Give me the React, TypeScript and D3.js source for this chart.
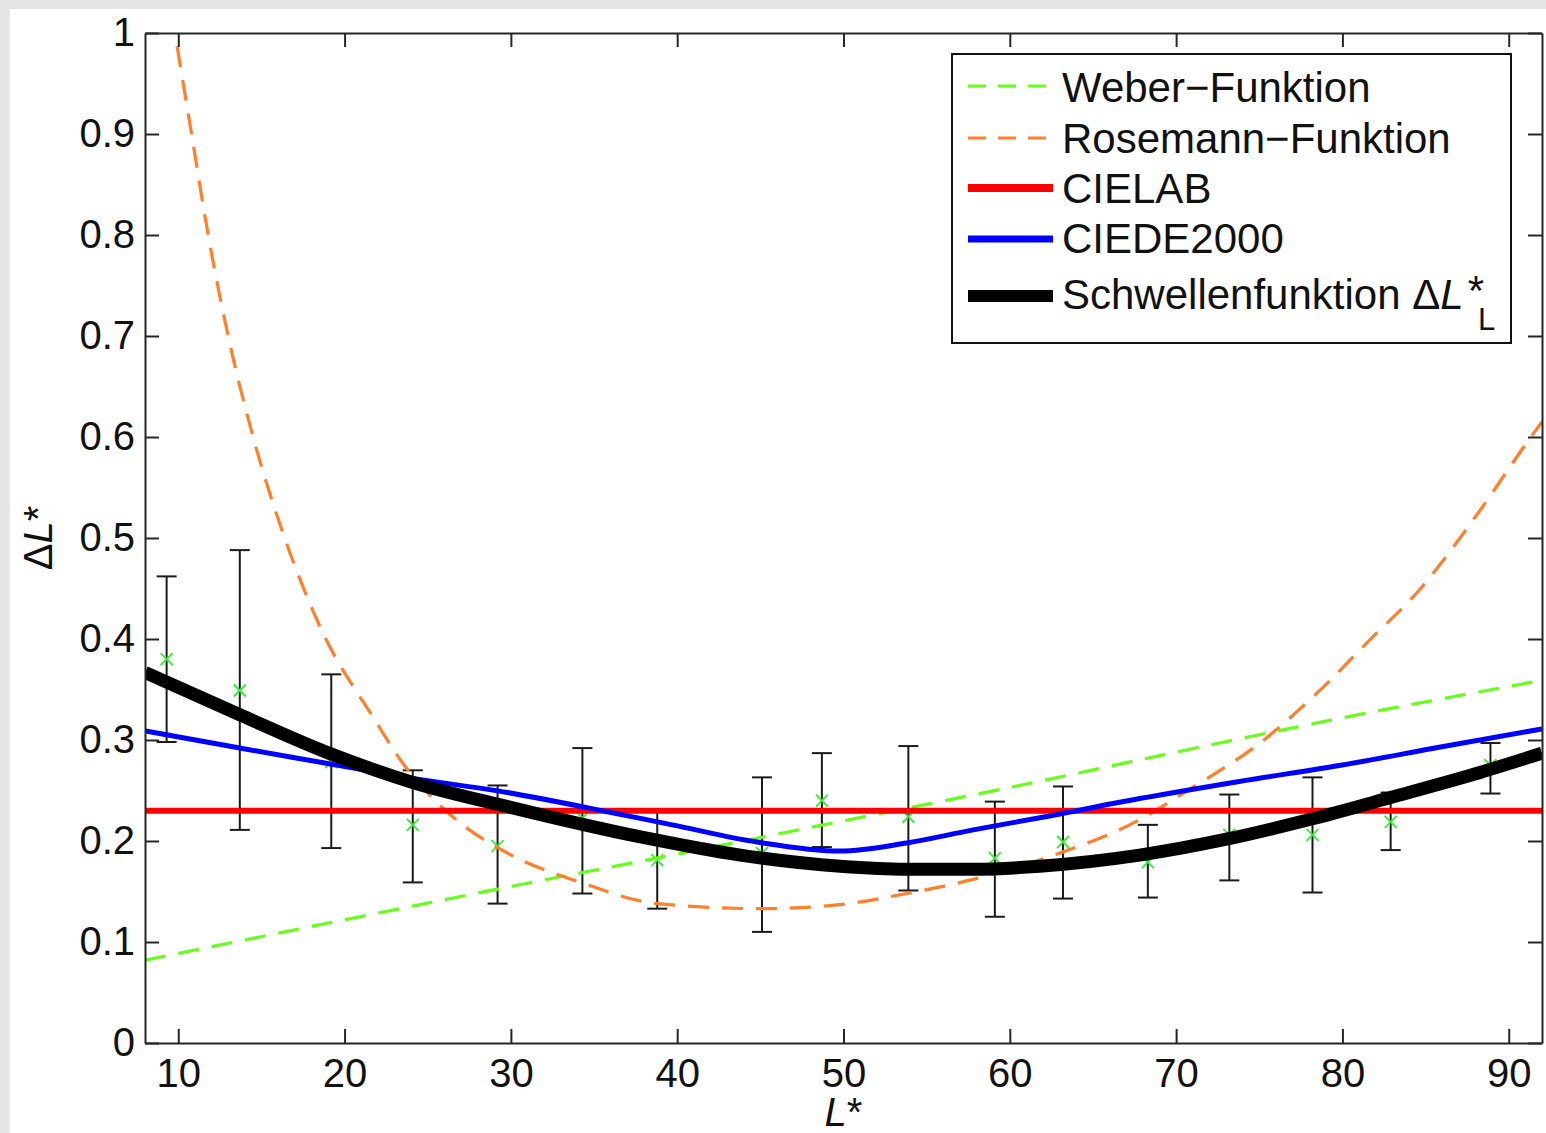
import { useEffect, useRef } from 'react';
import * as d3 from 'd3';

const W = 1546;
const H = 1133;

// tick values
const xTicks = [10, 20, 30, 40, 50, 60, 70, 80, 90];
const yTicks = [0, 0.1, 0.2, 0.3, 0.4, 0.5, 0.6, 0.7, 0.8, 0.9, 1];

// Weber function (green dashed)
const weberL = [8, 20, 30, 40, 50, 60, 70, 80, 92];
const weberV = [0.082, 0.122, 0.155, 0.187, 0.22, 0.253, 0.288, 0.322, 0.359];

// Rosemann function (orange dashed)
const roseL = [9.6, 9.8, 10.8, 11.8, 13.0, 14.5, 16.4, 18.7, 21.7, 23.5, 26.5, 29.8, 34.2, 38.8, 45.2, 49.8, 53.8, 57.8, 63.0, 67.8, 70.2, 75.5, 78.5, 81.7, 84.7, 86.8, 88.3, 91.2, 92];
const roseV = [1.02, 1.0, 0.9, 0.8, 0.7, 0.6, 0.5, 0.406, 0.323, 0.277, 0.224, 0.188, 0.159, 0.138, 0.133, 0.137, 0.148, 0.162, 0.188, 0.221, 0.245, 0.303, 0.347, 0.4, 0.45, 0.494, 0.528, 0.597, 0.615];

// CIELAB (constant)
const cielabL = [8, 92];
const cielabV = [0.23, 0.23];

// CIEDE2000 (blue)
const ciedeL = [8, 13.7, 18.9, 24.1, 29.8, 35.8, 39.7, 44.8, 49.8, 53.8, 57.8, 61.8, 67.8, 73.8, 79.9, 85.9, 92];
const ciedeV = [0.309, 0.292, 0.277, 0.262, 0.248, 0.229, 0.216, 0.199, 0.19, 0.198, 0.211, 0.223, 0.242, 0.259, 0.275, 0.293, 0.311];

// threshold function (black)
const schwL = [8, 13.7, 18.9, 24.1, 29.8, 37.8, 43.8, 49.8, 53.8, 57.8, 61.8, 67.8, 73.1, 78.2, 82.9, 87.9, 92];
const schwV = [0.367, 0.325, 0.288, 0.258, 0.234, 0.204, 0.186, 0.175, 0.172, 0.172, 0.175, 0.186, 0.202, 0.222, 0.243, 0.266, 0.287];

// measured thresholds with error bars
const measL = [9.3, 13.7, 19.2, 24.1, 29.2, 34.3, 38.8, 45.1, 48.7, 53.9, 59.1, 63.2, 68.3, 73.2, 78.2, 82.9, 88.9];
const measMean = [0.38, 0.349, 0.278, 0.216, 0.195, 0.223, 0.181, 0.188, 0.24, 0.224, 0.183, 0.199, 0.179, 0.206, 0.206, 0.219, 0.275];
const measLow = [0.298, 0.211, 0.193, 0.159, 0.138, 0.148, 0.133, 0.11, 0.194, 0.151, 0.125, 0.143, 0.144, 0.161, 0.149, 0.191, 0.247];
const measHigh = [0.462, 0.488, 0.365, 0.27, 0.255, 0.292, 0.23, 0.263, 0.287, 0.294, 0.239, 0.254, 0.216, 0.246, 0.263, 0.248, 0.297];

const FONT = 'Liberation Sans, Arial, Helvetica, sans-serif';
const AXIS = '#262626';

const App = () => {
  const svgRef = useRef<SVGSVGElement>(null);

  useEffect(() => {
    const svg = d3.select(svgRef.current);
    svg.selectAll('*').remove();

    const margin = { top: 33, right: 4, bottom: 90, left: 145 };
    const width = W - margin.left - margin.right;
    const height = H - margin.top - margin.bottom;

    // figure background
    svg.append('rect').attr('width', W).attr('height', H).attr('fill', '#e6e6e6');
    svg.append('rect').attr('x', 10).attr('y', 9).attr('width', W - 10).attr('height', H - 9).attr('fill', '#fff');

    const g = svg.append('g').attr('transform', `translate(${margin.left},${margin.top})`);

    const x = d3.scaleLinear().domain([8, 92]).range([0, width]);
    const y = d3.scaleLinear().domain([0, 1]).range([height, 0]);

    g.append('clipPath').attr('id', 'plotclip')
      .append('rect').attr('width', width).attr('height', height);

    const plot = g.append('g').attr('clip-path', 'url(#plotclip)');

    // error bars + markers
    const bars = plot.append('g');
    measL.forEach((L, i) => {
      const cx = x(L);
      bars.append('line')
        .attr('x1', cx).attr('x2', cx)
        .attr('y1', y(measLow[i])).attr('y2', y(measHigh[i]))
        .attr('stroke', '#1a1a1a').attr('stroke-width', 2);
      [measLow[i], measHigh[i]].forEach(v => {
        bars.append('line')
          .attr('x1', cx - 10).attr('x2', cx + 10)
          .attr('y1', y(v)).attr('y2', y(v))
          .attr('stroke', '#1a1a1a').attr('stroke-width', 2);
      });
      const my = y(measMean[i]);
      bars.append('path')
        .attr('d', `M${cx - 6},${my - 6}L${cx + 6},${my + 6}M${cx - 6},${my + 6}L${cx + 6},${my - 6}`)
        .attr('stroke', '#33ee33').attr('stroke-width', 1.8).attr('fill', 'none');
    });

    const lineGen = d3.line<[number, number]>()
      .x(d => x(d[0])).y(d => y(d[1]))
      .curve(d3.curveMonotoneX);

    const zip = (ls: number[], vs: number[]) => ls.map((l, i) => [l, vs[i]] as [number, number]);

    const series = [
      { name: 'Weber\u2212Funktion', data: zip(weberL, weberV), color: '#66ff1a', width: 3.2, dash: '21,13' },
      { name: 'Rosemann\u2212Funktion', data: zip(roseL, roseV), color: '#ff7f2a', width: 3.2, dash: '21,13' },
      { name: 'CIELAB', data: zip(cielabL, cielabV), color: '#ff0000', width: 6, dash: null },
      { name: 'CIEDE2000', data: zip(ciedeL, ciedeV), color: '#0000ff', width: 5, dash: null },
      { name: 'Schwellenfunktion', data: zip(schwL, schwV), color: '#000000', width: 13, dash: null },
    ];

    series.forEach(s => {
      plot.append('path')
        .datum(s.data)
        .attr('d', lineGen)
        .attr('fill', 'none')
        .attr('stroke', s.color)
        .attr('stroke-width', s.width)
        .attr('stroke-dasharray', s.dash)
        .attr('stroke-linecap', 'butt');
    });

    // axes (inward ticks, box)
    const styleAxis = (sel: any) => {
      sel.selectAll('.domain').attr('stroke', AXIS).attr('stroke-width', 2);
      sel.selectAll('.tick line').attr('stroke', AXIS).attr('stroke-width', 2);
      sel.selectAll('.tick text').attr('fill', '#111').attr('font-size', 40).attr('font-family', FONT);
    };

    g.append('g').attr('transform', `translate(0,${height})`)
      .call(d3.axisBottom(x).tickValues(xTicks).tickSize(-14).tickSizeOuter(0).tickPadding(16))
      .call(styleAxis);
    g.append('g')
      .call(d3.axisTop(x).tickValues(xTicks).tickSize(-14).tickSizeOuter(0).tickFormat(() => ''))
      .call(styleAxis);
    g.append('g')
      .call(d3.axisLeft(y).tickValues(yTicks).tickSize(-14).tickSizeOuter(0).tickPadding(10).tickFormat(d3.format('~g')))
      .call(styleAxis);
    g.append('g').attr('transform', `translate(${width},0)`)
      .call(d3.axisRight(y).tickValues(yTicks).tickSize(-14).tickSizeOuter(0).tickFormat(() => ''))
      .call(styleAxis);

    // axis labels
    const xl = svg.append('text')
      .attr('x', margin.left + width / 2).attr('y', 1126)
      .attr('text-anchor', 'middle').attr('font-size', 40).attr('font-family', FONT).attr('fill', '#111');
    xl.append('tspan').attr('font-style', 'italic').text('L');
    xl.append('tspan').text('*');

    const yl = svg.append('text')
      .attr('transform', `translate(52,${margin.top + height / 2}) rotate(-90)`)
      .attr('text-anchor', 'middle').attr('font-size', 40).attr('font-family', FONT).attr('fill', '#111');
    yl.append('tspan').text('\u0394');
    yl.append('tspan').attr('font-style', 'italic').text('L');
    yl.append('tspan').text('*');

    // legend
    const lg = svg.append('g');
    lg.append('rect')
      .attr('x', 952).attr('y', 54).attr('width', 559).attr('height', 289)
      .attr('fill', '#fff').attr('stroke', '#111').attr('stroke-width', 2);
    const rowY = [86, 138, 188, 239, 296];
    const textY = [102, 153, 203, 253, 309];
    series.forEach((s, i) => {
      lg.append('line')
        .attr('x1', 968).attr('x2', 1053)
        .attr('y1', rowY[i]).attr('y2', rowY[i])
        .attr('stroke', s.color)
        .attr('stroke-width', s.dash ? 3.2 : Math.min(s.width + 2, 12))
        .attr('stroke-dasharray', s.dash ? '18,12' : null);
      const t = lg.append('text')
        .attr('x', 1062).attr('y', textY[i])
        .attr('font-size', 42).attr('font-family', FONT).attr('fill', '#111');
      if (i < 4) {
        t.text(s.name);
      } else {
        t.append('tspan').text('Schwellenfunktion \u0394');
        t.append('tspan').attr('font-style', 'italic').text('L');
        t.append('tspan').attr('dx', 4).attr('dy', -4).text('*');
        t.append('tspan').attr('dx', -6).attr('dy', 25).attr('font-size', 31).text('L');
      }
    });
  }, []);

  return (
    <div style={{ position: 'absolute', left: 0, top: 0, width: W, height: H, overflow: 'hidden' }}>
      <svg ref={svgRef} width={W} height={H} style={{ display: 'block' }} />
    </div>
  );
};

export default App;
